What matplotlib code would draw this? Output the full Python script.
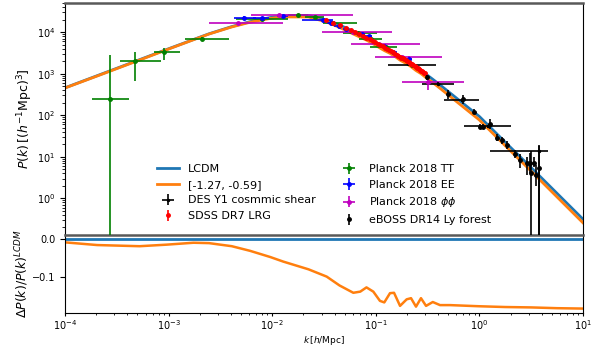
import numpy as np
import matplotlib
matplotlib.use("Agg")
import matplotlib.pyplot as plt

# ---------------- model curves (log10 values) ----------------
log10_k_model = [-4.0, -3.69, -3.28, -3.02, -2.76, -2.61, -2.39, -2.214, -2.02, -1.893,
                 -1.65, -1.474, -1.35, -1.217, -1.15, -1.09, -1.024, -0.96, -0.918, -0.863,
                 -0.824, -0.766, -0.702, -0.66, -0.612, -0.564, -0.515, -0.45, -0.38, -0.284,
                 0.0, 0.25, 0.5, 0.75, 1.0]
log10_P_lcdm = [2.66, 2.951, 3.337, 3.581, 3.821, 3.959, 4.133, 4.251, 4.35, 4.392,
                4.40, 4.287, 4.17, 4.02, 3.94, 3.867, 3.781, 3.694, 3.635, 3.555,
                3.496, 3.409, 3.313, 3.242, 3.16, 3.075, 2.987, 2.865, 2.73, 2.538,
                1.97, 1.35, 0.74, 0.12, -0.50]
ratio_model = [-0.010, -0.017, -0.020, -0.016, -0.011, -0.012, -0.020, -0.032, -0.048, -0.060,
               -0.080, -0.099, -0.122, -0.141, -0.138, -0.127, -0.138, -0.162, -0.166, -0.142,
               -0.141, -0.175, -0.158, -0.155, -0.177, -0.155, -0.175, -0.165, -0.173, -0.173,
               -0.176, -0.178, -0.179, -0.181, -0.182]

# ---------------- data sets (log10 k, log10 P, error bounds) ----------------
# Planck 2018 TT
tt_logk = [-3.566, -3.324, -3.042, -2.675, -2.10, -1.754, -1.587, -1.41, -1.17, -1.05, -0.90, -0.654]
tt_logk_lo = [-3.742, -3.469, -3.138, -2.842, -2.35, -1.85, -1.68, -1.51, -1.32, -1.16, -1.06, -0.70]
tt_logk_hi = [-3.382, -3.073, -2.890, -2.417, -1.85, -1.65, -1.50, -1.18, -0.99, -0.94, -0.80, -0.60]
tt_logP = [2.40, 3.30, 3.52, 3.84, 4.32, 4.40, 4.36, 4.22, 3.99, 3.84, 3.64, 3.22]
tt_logP_lo = [float("-inf"), 2.82, 3.34, 3.80, 4.30, 4.38, 4.34, 4.20, 3.97, 3.82, 3.62, 3.20]
tt_logP_hi = [3.46, 3.52, 3.62, 3.88, 4.34, 4.42, 4.38, 4.24, 4.01, 3.86, 3.66, 3.24]

# Planck 2018 EE
ee_logk = [-2.27, -2.10, -1.90, -1.51, -1.435, -1.36, -1.29, -1.13, -1.07, -0.92, -0.83, -0.677]
ee_logk_lo = [-2.37, -2.19, -1.95, -1.71, -1.47, -1.40, -1.32, -1.16, -1.10, -0.95, -0.86, -0.70]
ee_logk_hi = [-2.16, -2.03, -1.85, -1.41, -1.40, -1.32, -1.26, -1.10, -1.04, -0.89, -0.80, -0.65]
ee_logP = [4.35, 4.35, 4.38, 4.30, 4.22, 4.14, 4.08, 3.96, 3.90, 3.66, 3.51, 3.36]
ee_logP_lo = [4.32, 4.33, 4.36, 4.28, 4.20, 4.12, 4.06, 3.94, 3.88, 3.64, 3.49, 3.30]
ee_logP_hi = [4.38, 4.37, 4.40, 4.32, 4.24, 4.16, 4.10, 3.98, 3.92, 3.68, 3.53, 3.42]

# Planck 2018 phi-phi
pp_logk = [-2.33, -1.93, -1.22, -0.97, -0.75, -0.50]
pp_logk_lo = [-2.61, -2.20, -1.52, -1.24, -1.01, -0.75]
pp_logk_hi = [-1.90, -1.22, -0.84, -0.57, -0.36, -0.15]
pp_logP = [4.22, 4.40, 4.00, 3.72, 3.40, 2.80]
pp_logP_lo = [4.20, 4.38, 3.98, 3.70, 3.38, 2.617]
pp_logP_hi = [4.24, 4.42, 4.02, 3.74, 3.42, 2.905]

# SDSS DR7 LRG
lrg_k = [0.033, 0.039, 0.045, 0.051, 0.057, 0.063, 0.069, 0.075, 0.081, 0.087,
         0.093, 0.099, 0.105, 0.111, 0.117, 0.123, 0.129, 0.135, 0.141, 0.147,
         0.153, 0.159, 0.165, 0.171, 0.177, 0.183, 0.189, 0.195, 0.201, 0.207,
         0.213, 0.219, 0.225, 0.231, 0.237, 0.243, 0.249, 0.255, 0.261, 0.267,
         0.273, 0.279, 0.285, 0.291, 0.297]
lrg_P = [19600, 16900, 14700, 12900, 11300, 10000, 8980, 8130, 7410, 6730,
         6190, 5690, 5260, 4870, 4520, 4210, 3920, 3670, 3440, 3240,
         3040, 2870, 2720, 2570, 2440, 2320, 2210, 2100, 2020, 1920,
         1830, 1750, 1670, 1590, 1520, 1460, 1400, 1340, 1290, 1230,
         1190, 1140, 1100, 1060, 1020]
lrg_err = [900, 800, 700, 600, 550, 500, 450, 420, 390, 360,
           340, 320, 300, 280, 260, 250, 240, 230, 220, 210,
           200, 190, 185, 180, 175, 170, 165, 160, 155, 150,
           145, 140, 135, 130, 125, 120, 118, 115, 112, 110,
           108, 105, 102, 100, 98]

# DES Y1 cosmic shear
des_logk = [-0.65, -0.40, -0.17, 0.08, 0.575]
des_logk_lo = [-0.879, -0.557, -0.339, -0.146, 0.10]
des_logk_hi = [-0.419, -0.245, 0.0, 0.305, 0.66]
des_logP = [3.22, 2.76, 2.36, 1.73, 1.13]
des_logP_lo = [3.18, 2.72, 2.32, 1.69, float("-inf")]
des_logP_hi = [3.26, 2.80, 2.40, 1.77, 1.25]

# eBOSS DR14 Ly-alpha forest
lya_logk = [-0.51, -0.30, -0.155, -0.05, 0.006, 0.032, 0.10, 0.166, 0.22, 0.27,
            0.34, 0.39, 0.456, 0.49, 0.50, 0.53, 0.55, 0.575]
lya_logP = [2.92, 2.50, 2.38, 2.08, 1.72, 1.72, 1.80, 1.46, 1.40, 1.28,
            1.08, 0.92, 0.84, 0.84, 0.60, 0.86, 0.56, 0.72]
lya_logP_lo = [2.86, 2.38, 2.28, 2.02, 1.66, 1.66, 1.68, 1.38, 1.32, 1.18,
               0.98, 0.74, 0.56, 0.60, float("-inf"), 0.76, 0.30, float("-inf")]
lya_logP_hi = [2.98, 2.60, 2.48, 2.14, 1.78, 1.78, 1.92, 1.54, 1.48, 1.38,
               1.16, 1.06, 1.00, 1.10, 1.13, 1.00, 0.80, 1.28]


def pts(logk, logP, logk_lo=None, logk_hi=None, logP_lo=None, logP_hi=None):
    k = 10 ** np.asarray(logk, float)
    P = 10 ** np.asarray(logP, float)
    xerr = None
    if logk_lo is not None:
        xerr = [k - 10 ** np.asarray(logk_lo, float), 10 ** np.asarray(logk_hi, float) - k]
    yerr = [P - 10 ** np.asarray(logP_lo, float), 10 ** np.asarray(logP_hi, float) - P]
    return k, P, xerr, yerr


fig = plt.figure(figsize=(6.05, 3.49), dpi=100)
W, H = 605.0, 349.0
ax = fig.add_axes([65 / W, 1 - 235 / H, (583 - 65) / W, (235 - 3) / H], zorder=2)
axr = fig.add_axes([65 / W, 1 - 313 / H, (583 - 65) / W, (313 - 234) / H], zorder=1, sharex=ax)

k_model = 10 ** np.asarray(log10_k_model)
P_lcdm = 10 ** np.asarray(log10_P_lcdm)
P_alt = P_lcdm * (1 + np.asarray(ratio_model))

l1, = ax.plot(k_model, P_lcdm, color="#1f77b4", lw=2, label="LCDM")
l2, = ax.plot(k_model, P_alt, color="#ff7f0e", lw=2, label="[-1.27, -0.59]")

k, P, xe, ye = pts(tt_logk, tt_logP, tt_logk_lo, tt_logk_hi, tt_logP_lo, tt_logP_hi)
h_tt = ax.errorbar(k, P, xerr=xe, yerr=ye, fmt="o", ms=2.5, color="green", elinewidth=1.2, zorder=3)
k, P, xe, ye = pts(ee_logk, ee_logP, ee_logk_lo, ee_logk_hi, ee_logP_lo, ee_logP_hi)
h_ee = ax.errorbar(k, P, xerr=xe, yerr=ye, fmt="o", ms=2.5, color="blue", elinewidth=1.2, zorder=3)
k, P, xe, ye = pts(pp_logk, pp_logP, pp_logk_lo, pp_logk_hi, pp_logP_lo, pp_logP_hi)
h_pp = ax.errorbar(k, P, xerr=xe, yerr=ye, fmt="o", ms=2.5, color="m", elinewidth=1.2, zorder=3)
h_lrg = ax.errorbar(lrg_k, lrg_P, yerr=lrg_err, fmt="o", ms=2.5, color="red", elinewidth=1.2, zorder=4)
k, P, xe, ye = pts(des_logk, des_logP, des_logk_lo, des_logk_hi, des_logP_lo, des_logP_hi)
h_des = ax.errorbar(k, P, xerr=xe, yerr=ye, fmt="o", ms=1.5, color="black", elinewidth=1.2, zorder=3)
k, P, xe, ye = pts(lya_logk, lya_logP, None, None, lya_logP_lo, lya_logP_hi)
h_lya = ax.errorbar(k, P, yerr=ye, fmt="o", ms=2.5, color="black", elinewidth=1.2, zorder=5)

ax.set_xscale("log")
ax.set_yscale("log")
ax.set_xlim(1e-4, 10)
ax.set_ylim(10 ** -0.88, 10 ** 4.70)
ax.tick_params(axis="x", which="both", length=0, labelbottom=False)
ax.tick_params(axis="y", labelsize=7)
ax.set_ylabel(r"$P(k)\,[(h^{-1}\mathrm{Mpc})^3]$", fontsize=9, labelpad=1)
for s in ["top", "bottom"]:
    ax.spines[s].set_color("0.35")
    ax.spines[s].set_linewidth(1.8)

ax.legend([l1, l2, h_des, h_lrg, h_tt, h_ee, h_pp, h_lya],
          ["LCDM", "[-1.27, -0.59]", "DES Y1 cosmmic shear", "SDSS DR7 LRG",
           "Planck 2018 TT", "Planck 2018 EE", r"Planck 2018 $\phi\phi$", "eBOSS DR14 Ly forest"],
          ncol=2, loc="lower center", frameon=False, fontsize=8)

axr.plot(k_model, np.zeros(len(k_model)), color="#1f77b4", lw=2)
axr.plot(k_model, ratio_model, color="#ff7f0e", lw=1.8)
axr.set_ylim(-0.1935, 0.0117)
axr.set_yticks([0.0, -0.1])
axr.tick_params(axis="y", labelsize=7)
axr.tick_params(axis="x", which="major", labelsize=7, length=2.5, pad=1.5)
axr.tick_params(axis="x", which="minor", length=1.5)
axr.set_xlabel(r"$k\,[h/\mathrm{Mpc}]$", fontsize=6.5, labelpad=1)
axr.set_ylabel(r"$\Delta P(k)/P(k)^{LCDM}$", fontsize=9, labelpad=1)
axr.set_xlim(1e-4, 10)

fig.savefig("out.png", dpi=100)
